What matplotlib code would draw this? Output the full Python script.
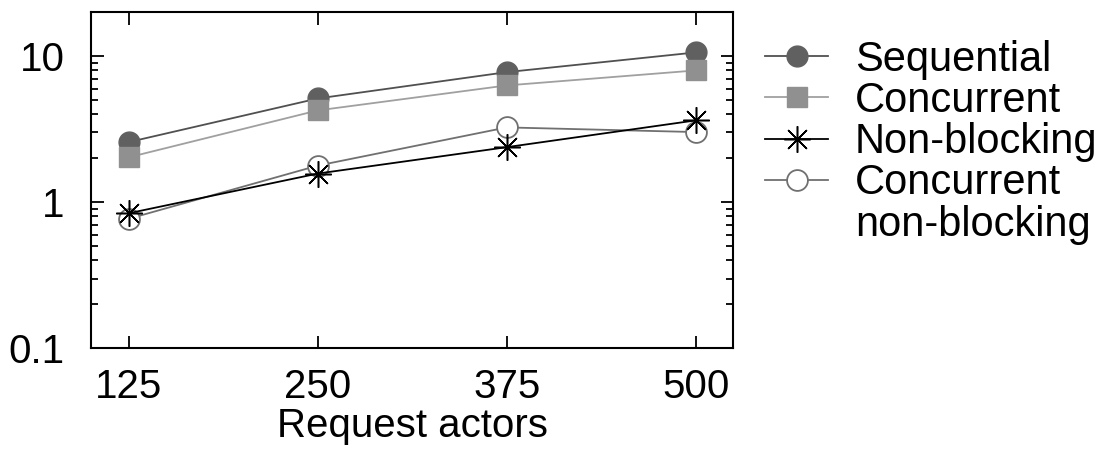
import matplotlib
matplotlib.use('Agg')
import matplotlib.pyplot as plt
from matplotlib.lines import Line2D
from matplotlib.ticker import LogLocator, NullFormatter

plt.rcParams['font.family'] = ['Liberation Sans', 'DejaVu Sans']

actors = [125, 250, 375, 500]
sequential = [2.58, 5.13, 7.77, 10.6]
concurrent = [2.03, 4.25, 6.3, 7.98]
non_blocking = [0.84, 1.57, 2.38, 3.63]
concurrent_nb = [0.77, 1.78, 3.25, 3.02]

fig = plt.figure(figsize=(10.98, 4.51), dpi=100)
ax = fig.add_axes([0.083, 0.228, 0.585, 0.745])

ax.plot(actors, sequential, color='#505050', lw=1.3, marker='o', ms=15,
        mfc='#606060', mec='#606060', label='Sequential')
ax.plot(actors, concurrent, color='#a0a0a0', lw=1.3, marker='s', ms=15,
        mfc='#909090', mec='#909090', label='Concurrent')
ax.plot(actors, concurrent_nb, color='#707070', lw=1.3, marker='o', ms=15,
        mfc='white', mec='#707070', mew=1.3, label='Concurrent')
ax.plot(actors, non_blocking, color='black', lw=1.3, marker=(8, 2, 0), ms=19,
        mew=1.1, label='Non-blocking')

ax.set_yscale('log')
ax.set_ylim(0.1, 20)
ax.set_xlim(100, 525)
ax.set_xticks(actors)
ax.set_yticks([0.1, 1, 10])
ax.set_yticklabels(['0.1', '1', '10'])
ax.yaxis.set_minor_locator(LogLocator(base=10, subs=range(2, 10)))
ax.yaxis.set_minor_formatter(NullFormatter())

ax.tick_params(which='both', direction='in', top=True, right=True,
               labelsize=29, width=1.3)
ax.tick_params(which='major', length=9)
ax.tick_params(which='minor', length=5)
ax.tick_params(axis='x', pad=14)
ax.tick_params(axis='y', pad=19)
for s in ax.spines.values():
    s.set_linewidth(1.5)

ax.set_xlabel('Request actors', fontsize=29, labelpad=1)

h, l = ax.get_legend_handles_labels()
order = [0, 1, 3, 2]
handles = [h[i] for i in order] + [Line2D([], [], color='none')]
labels = [l[i] for i in order] + ['non-blocking']
fig.legend(handles, labels, loc='upper left', bbox_to_anchor=(0.697, 0.912),
           frameon=False, fontsize=30, handlelength=1.5, handletextpad=0.65,
           labelspacing=0.03, borderpad=0, borderaxespad=0)

fig.savefig('out.png', dpi=100)
